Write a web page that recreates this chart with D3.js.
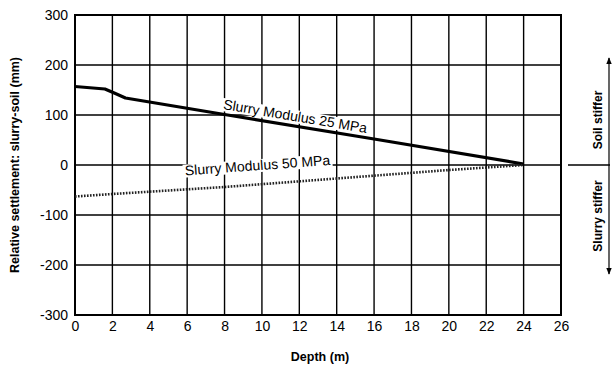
<!DOCTYPE html>
<html><head><meta charset="utf-8">
<script src="https://cdn.jsdelivr.net/npm/d3@7"></script>
<style>body{margin:0;background:#fff}svg{display:block}text{font-family:"Liberation Sans",Arial,sans-serif;fill:#000}</style>
</head><body><svg id="c" width="613" height="365"></svg>
<script>
const xTicks = [0,2,4,6,8,10,12,14,16,18,20,22,24,26];
const yTicks = [300,200,100,0,-100,-200,-300];
const depth25 = [0, 1.6, 2.1, 2.7, 8, 16, 24];
const settle25 = [157, 152, 144, 134, 101, 52, 2];
const depth50 = [0, 2, 8, 14, 20, 24];
const settle50 = [-63, -58, -44, -27, -10, 0];
const xTitle = "Depth (m)";
const yTitle = "Relative settlement: slurry-soil (mm)";
const label25 = "Slurry Modulus 25 MPa";
const label50 = "Slurry Modulus 50 MPa";
const sideTop = "Soil stiffer", sideBottom = "Slurry stiffer";

const svg = d3.select("#c");
const L=75, R=561, T=15, B=315;
const x = d3.scaleLinear().domain([0,26]).range([L,R]);
const y = d3.scaleLinear().domain([-300,300]).range([B,T]);

// grid
const g = svg.append("g");
g.selectAll(".vx").data(xTicks.slice(1,-1)).join("line")
 .attr("x1",d=>x(d)).attr("x2",d=>x(d)).attr("y1",T).attr("y2",B)
 .attr("stroke","#000").attr("stroke-width",1.4);
g.selectAll(".hy").data(yTicks.slice(1,-1)).join("line")
 .attr("x1",L).attr("x2",R).attr("y1",d=>y(d)).attr("y2",d=>y(d))
 .attr("stroke","#000").attr("stroke-width",1.4);
svg.append("rect").attr("x",L).attr("y",T).attr("width",R-L).attr("height",B-T)
 .attr("fill","none").attr("stroke","#000").attr("stroke-width",2);

// axes labels
const fmt = d => String(d);
const xa = d3.axisBottom(x).tickValues(xTicks).tickSize(0).tickPadding(6).tickFormat(fmt);
const xg = svg.append("g").attr("transform",`translate(0,${B})`).call(xa);
xg.select(".domain").remove();
xg.selectAll("text").style("font-size","14px").attr("fill","#000");
const ya = d3.axisLeft(y).tickValues(yTicks).tickSize(0).tickPadding(7).tickFormat(fmt);
const yg = svg.append("g").attr("transform",`translate(${L},0)`).call(ya);
yg.select(".domain").remove();
yg.selectAll("text").style("font-size","14px").attr("fill","#000");

svg.append("text").attr("x",(L+R)/2+2).attr("y",361).attr("text-anchor","middle")
 .style("font-size","12.5px").style("font-weight","bold").text(xTitle);
svg.append("text").attr("transform",`translate(19,${(T+B)/2}) rotate(-90)`).attr("text-anchor","middle")
 .style("font-size","12.5px").style("font-weight","bold").text(yTitle);

// labels with white backing
function label(txt, px, py, ang){
  const gg = svg.append("g").attr("transform",`translate(${px},${py}) rotate(${ang})`);
  const t = gg.append("text").attr("text-anchor","start").style("font-size","14px").text(txt);
  const bb = t.node().getBBox();
  gg.insert("rect","text").attr("x",bb.x-2).attr("y",bb.y+2).attr("width",bb.width+4).attr("height",bb.height-3).attr("fill","#fff");
}
label(label25, x(7.9), y(112), 9.5);
label(label50, x(5.9), y(-21), -4.2);

// series
const line = d3.line().x(d=>x(d[0])).y(d=>y(d[1]));
svg.append("path").datum(depth25.map((d,i)=>[d,settle25[i]]))
 .attr("d",line).attr("fill","none").attr("stroke","#000").attr("stroke-width",3.2)
 .attr("stroke-linejoin","round");
svg.append("path").datum(depth50.map((d,i)=>[d,settle50[i]]))
 .attr("d",line).attr("fill","none").attr("stroke","#222")
 .attr("stroke-width",2.6).attr("stroke-dasharray","1.6,1.4");

// side annotation
const ax = 609;
svg.append("defs").html('<marker id="ah" viewBox="0 0 10 10" refX="9" refY="5" markerWidth="6" markerHeight="9" orient="auto"><path d="M0,1L10,5L0,9Z" fill="#000"/></marker>');
svg.append("line").attr("x1",ax).attr("x2",ax).attr("y1",y(0)).attr("y2",58)
 .attr("stroke","#000").attr("stroke-width",1.2).attr("marker-end","url(#ah)");
svg.append("line").attr("x1",ax).attr("x2",ax).attr("y1",y(0)).attr("y2",274)
 .attr("stroke","#000").attr("stroke-width",1.2).attr("marker-end","url(#ah)");
svg.append("line").attr("x1",568).attr("x2",610).attr("y1",y(0)).attr("y2",y(0))
 .attr("stroke","#000").attr("stroke-width",1.3);
svg.append("text").attr("transform",`translate(602,120) rotate(-90)`).attr("text-anchor","middle")
 .style("font-size","12px").style("font-weight","bold").text(sideTop);
svg.append("text").attr("transform",`translate(602,216) rotate(-90)`).attr("text-anchor","middle")
 .style("font-size","12px").style("font-weight","bold").text(sideBottom);
</script></body></html>
